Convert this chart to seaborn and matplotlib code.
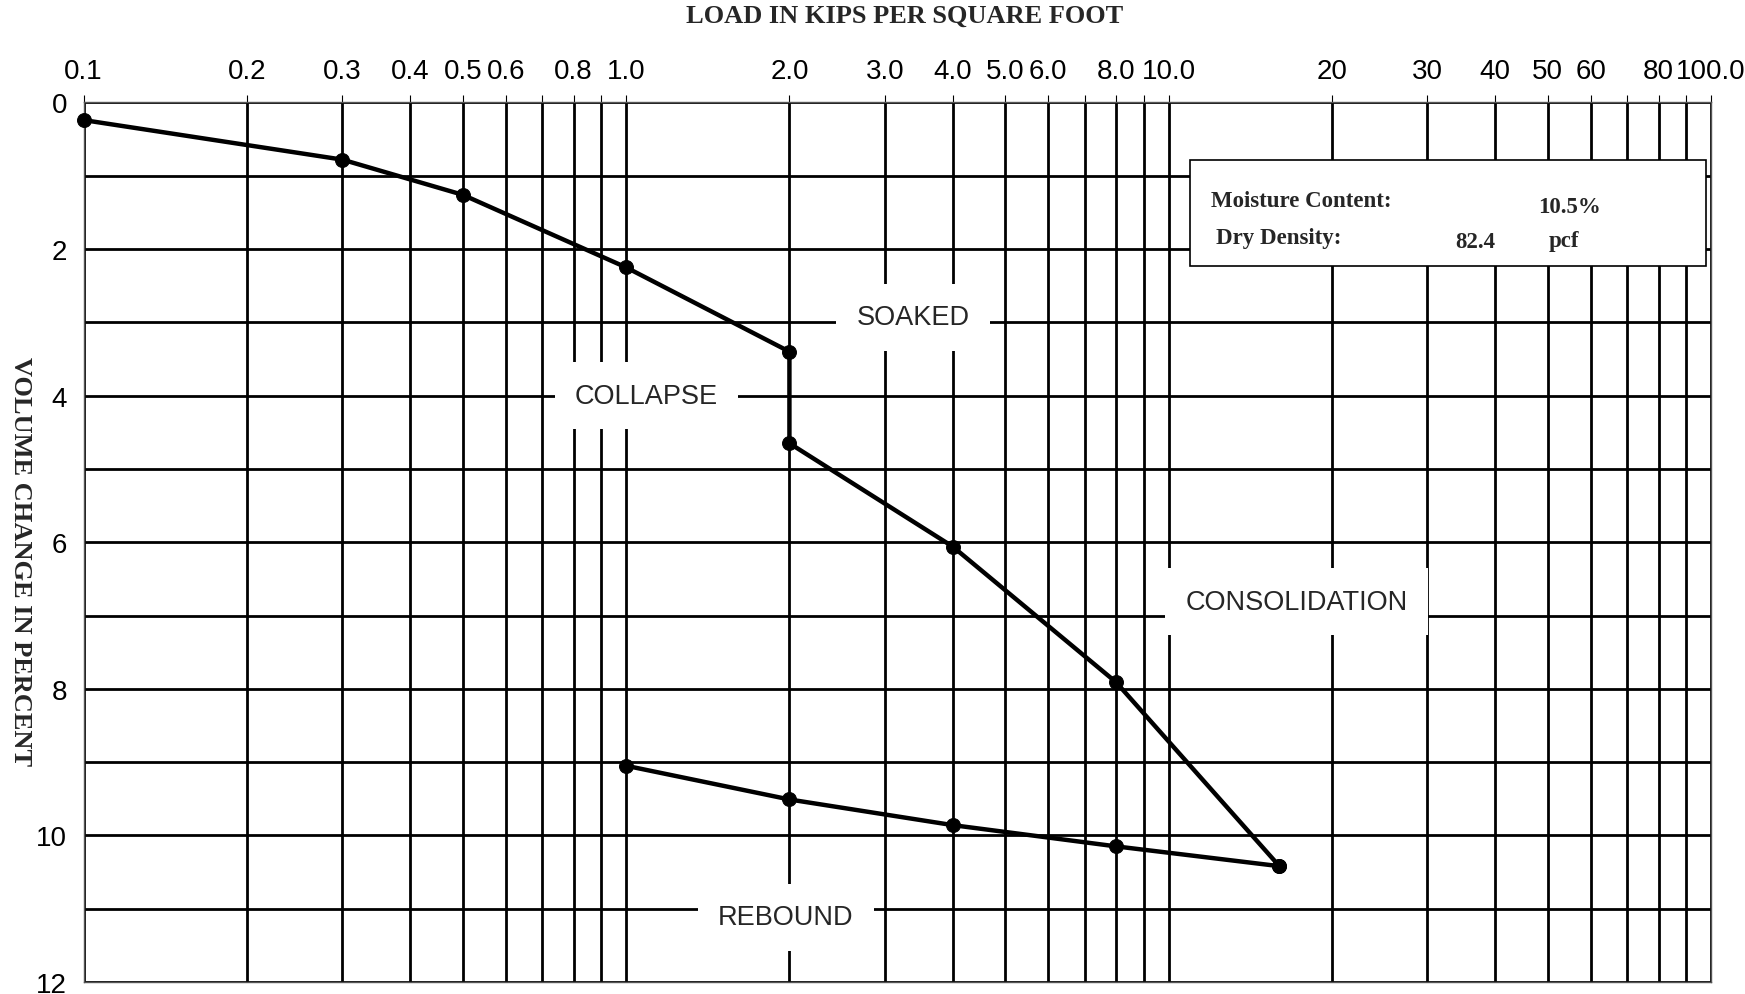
import numpy as np
import matplotlib
matplotlib.use("Agg")
import matplotlib.pyplot as plt
from matplotlib.patches import Rectangle
from matplotlib.ticker import FixedLocator, NullFormatter
import seaborn as sns

# data
load_kips = [0.1, 0.3, 0.5, 1.0, 2.0, 2.0, 4.0, 8.0, 16.0]
load_change = [0.24, 0.78, 1.26, 2.25, 3.40, 4.65, 6.06, 7.91, 10.42]
rebound_kips = [16.0, 8.0, 4.0, 2.0, 1.0]
rebound_change = [10.42, 10.15, 9.86, 9.51, 9.05]

x_labeled = [0.1, 0.2, 0.3, 0.4, 0.5, 0.6, 0.8, 1.0, 2.0, 3.0, 4.0, 5.0, 6.0,
             8.0, 10.0, 20, 30, 40, 50, 60, 80, 100]
x_labels = ["0.1", "0.2", "0.3", "0.4", "0.5", "0.6", "0.8", "1.0", "2.0", "3.0",
            "4.0", "5.0", "6.0", "8.0", "10.0", "20", "30", "40", "50", "60", "80", "100.0"]
x_unlabeled = [0.7, 0.9, 7.0, 9.0, 70, 90]
y_labeled = [0, 2, 4, 6, 8, 10, 12]
y_unlabeled = [1, 3, 5, 7, 9, 11]

moisture = "10.5%"
dry_density = "82.4"

sns.set_style("white")
plt.rcParams['font.family'] = ['Liberation Sans', 'DejaVu Sans']

fig = plt.figure(figsize=(17.45, 9.95), dpi=100)
ax = fig.add_axes([0.0479, 0.0121, 0.9327, 0.8839])

line_kw = dict(sort=False, estimator=None, ax=ax, color="black", lw=3.2,
               marker="o", markersize=10, markeredgecolor="black", zorder=4,
               clip_on=False)
sns.lineplot(x=load_kips, y=load_change, **line_kw)
sns.lineplot(x=rebound_kips, y=rebound_change, **line_kw)

ax.set_xscale("log")
ax.set_xlim(0.1, 100)
ax.set_ylim(12, 0)

ax.xaxis.tick_top()
ax.set_xticks(x_labeled, x_labels)
ax.xaxis.set_minor_locator(FixedLocator(x_unlabeled))
ax.xaxis.set_minor_formatter(NullFormatter())
ax.set_yticks(y_labeled)
ax.yaxis.set_minor_locator(FixedLocator(y_unlabeled))

ax.tick_params(axis="x", which="both", direction="out", length=5, width=0.8,
               pad=8, labelsize=20, colors="black")
ax.tick_params(axis="y", which="major", direction="out", length=5, width=0.8,
               pad=7, labelsize=20, colors="black")
ax.tick_params(axis="y", which="minor", length=0)

ax.grid(True, which="both", axis="both", color="black", lw=2.0)
ax.set_axisbelow(True)
for s in ax.spines.values():
    s.set_color("#555555")
    s.set_linewidth(1.0)

ax.set_xlabel("")
ax.set_ylabel("")

fig.text(0.5186, 0.984, "LOAD IN KIPS PER SQUARE FOOT", ha="center", va="center",
         fontsize=19, fontweight="bold", family="Liberation Serif")
fig.text(0.0115, 0.436, "VOLUME CHANGE IN PERCENT", ha="center", va="center",
         rotation=-90, fontsize=19, fontweight="bold", family="Liberation Serif")

box_kw = dict(boxstyle="square,pad=0.75", fc="white", ec="none")
ax.text(3.38, 2.93, "SOAKED", ha="center", va="center", fontsize=19.5, bbox=box_kw, zorder=3)
ax.text(1.09, 4.0, "COLLAPSE", ha="center", va="center", fontsize=19.5, bbox=box_kw, zorder=3)
ax.text(17.2, 6.81, "CONSOLIDATION", ha="center", va="center", fontsize=19.5, bbox=box_kw, zorder=3)
ax.text(1.97, 11.12, "REBOUND", ha="center", va="center", fontsize=19.5, bbox=box_kw, zorder=3)

# info box
ax.add_patch(Rectangle((0.680, 0.814), 0.317, 0.1206, transform=ax.transAxes,
                       fc="white", ec="black", lw=1.2, zorder=5))
info_kw = dict(fontsize=16.5, fontweight="bold", family="Liberation Serif",
               va="center", transform=ax.transAxes, zorder=6)
ax.text(0.693, 0.889, "Moisture Content:", ha="left", **info_kw)
ax.text(0.913, 0.882, moisture, ha="center", **info_kw)
ax.text(0.696, 0.846, "Dry Density:", ha="left", **info_kw)
ax.text(0.855, 0.842, dry_density, ha="center", **info_kw)
ax.text(0.9095, 0.843, "pcf", ha="center", **info_kw)

fig.savefig("out.png", dpi=100)
